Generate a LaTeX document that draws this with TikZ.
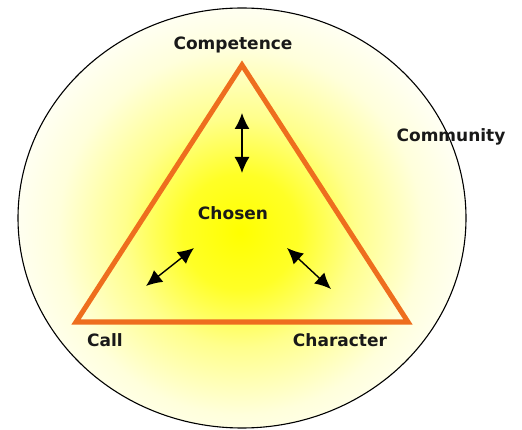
\documentclass[tikz,border=0pt]{standalone}
\usepackage{fontspec}
\setmainfont{DejaVu Sans}
\usetikzlibrary{arrows.meta,positioning}
\definecolor{triorange}{RGB}{238,110,30}
\definecolor{textdark}{RGB}{25,25,25}
\pgfdeclareradialshading{chosenglow}{\pgfpoint{0bp}{0bp}}{color(0bp)=(yellow); color(6bp)=(yellow!85); color(12bp)=(yellow!45); color(19bp)=(yellow!14); color(25bp)=(yellow!2); color(50bp)=(white)}

\begin{document}
\begin{tikzpicture}[
                        x=1pt, y=-1pt,
                        >={Latex[length=16pt,width=15pt]},
                        tagtext/.style={font=\bfseries\fontsize{17}{20}\selectfont, text=textdark},
                        link/.style={<->, line width=1.4pt}
                    ]
                    \useasboundingbox (0,0) rectangle (522,430);

                    % Glow
                    \begin{scope}
                    \clip (242,218) ellipse [x radius=224, y radius=210];
                    \shade[shading=chosenglow] (240,232) circle (240);
                    \end{scope}
                    \draw [line width=1.1pt] (242,218) ellipse [x radius=224, y radius=210];

                    % Triangle
                    \coordinate (top) at (242,65);
                    \coordinate (left) at (76,322);
                    \coordinate (right) at (408,322);
                    \draw [triorange, line width=5pt, line join=miter] (top) -- (left) -- (right) -- cycle;

                    % Labels
                    \node [tagtext] (competence) at (233,45) {Competence};
                    \node [tagtext] (community) at (451,137) {Community};
                    \node [tagtext] (chosen) at (233,213) {Chosen};
                    \node [tagtext] (call) at (105,340) {Call};
                    \node [tagtext] (character) at (340,340) {Character};

                    % Arrows
                    \coordinate (up1) at (242,113);
                    \coordinate (up2) at (242,173);
                    \coordinate (cl1) at (146,286);
                    \coordinate (cl2) at (194,248);
                    \coordinate (ch1) at (287,248);
                    \coordinate (ch2) at (331,289);
                    \draw [link] (up1) -- (up2);
                    \draw [link] (cl1) -- (cl2);
                    \draw [link] (ch1) -- (ch2);
                \end{tikzpicture}
\end{document}
